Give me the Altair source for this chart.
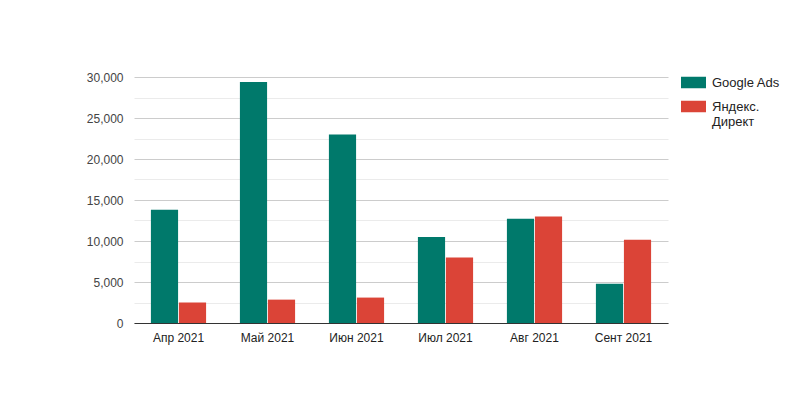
import altair as alt
import pandas as pd

months = ["Апр 2021", "Май 2021", "Июн 2021", "Июл 2021", "Авг 2021", "Сент 2021"]
google_ads = [13800, 29400, 23000, 10500, 12700, 4800]
yandex = [2500, 2850, 3100, 8000, 13000, 10150]
series = ["Google Ads", "Яндекс. Директ"]
colors = ["#00796b", "#db4437"]
y_ticks = [i * 2500 for i in range(13)]

rows = []
for m, g, y in zip(months, google_ads, yandex):
    rows.append({"month": m, "series": series[0], "value": g})
    rows.append({"month": m, "series": series[1], "value": y})
df = pd.DataFrame(rows)

font = "Liberation Sans"

chart = alt.Chart(df).mark_bar().encode(
    x=alt.X("month:N", sort=months, title=None,
            scale=alt.Scale(paddingInner=0.38, paddingOuter=0.19),
            axis=alt.Axis(labelAngle=0, ticks=False, tickSize=0, labelPadding=9,
                          domainColor="#333333", labelColor="#222222",
                          labelFontSize=12, labelFont=font, grid=False)),
    xOffset=alt.XOffset("series:N", sort=series, scale=alt.Scale(paddingInner=0.03)),
    y=alt.Y("value:Q", title=None,
            scale=alt.Scale(domain=[0, 30000], nice=False),
            axis=alt.Axis(values=y_ticks, format=",.0f", ticks=False, tickSize=0,
                          labelPadding=11, domain=False,
                          labelExpr="datum.value % 5000 == 0 ? datum.label : ''",
                          gridColor={"condition": {"test": "datum.value % 5000 == 0", "value": "#cccccc"}, "value": "#ebebeb"},
                          labelColor="#444444", labelFontSize=12, labelFont=font)),
    color=alt.Color("series:N", sort=series,
                    scale=alt.Scale(domain=series, range=colors),
                    legend=alt.Legend(title=None, orient="none", legendX=547, legendY=-7, padding=0,
                                      symbolType="M-1,-0.46H1V0.46H-1Z", symbolSize=625,
                                      symbolStrokeWidth=0, symbolOpacity=1,
                                      labelFont=font, labelFontSize=13, labelColor="#222222",
                                      labelOffset=6, rowPadding=4,
                                      labelExpr="datum.label == 'Яндекс. Директ' ? ['Яндекс.', 'Директ'] : datum.label")),
).properties(
    width=534, height=246,
    background="white",
    padding={"left": 78, "top": 62, "right": 5, "bottom": 5},
).configure_view(strokeWidth=0)

chart.save("out.html", embed_options={"renderer": "svg", "actions": False})
